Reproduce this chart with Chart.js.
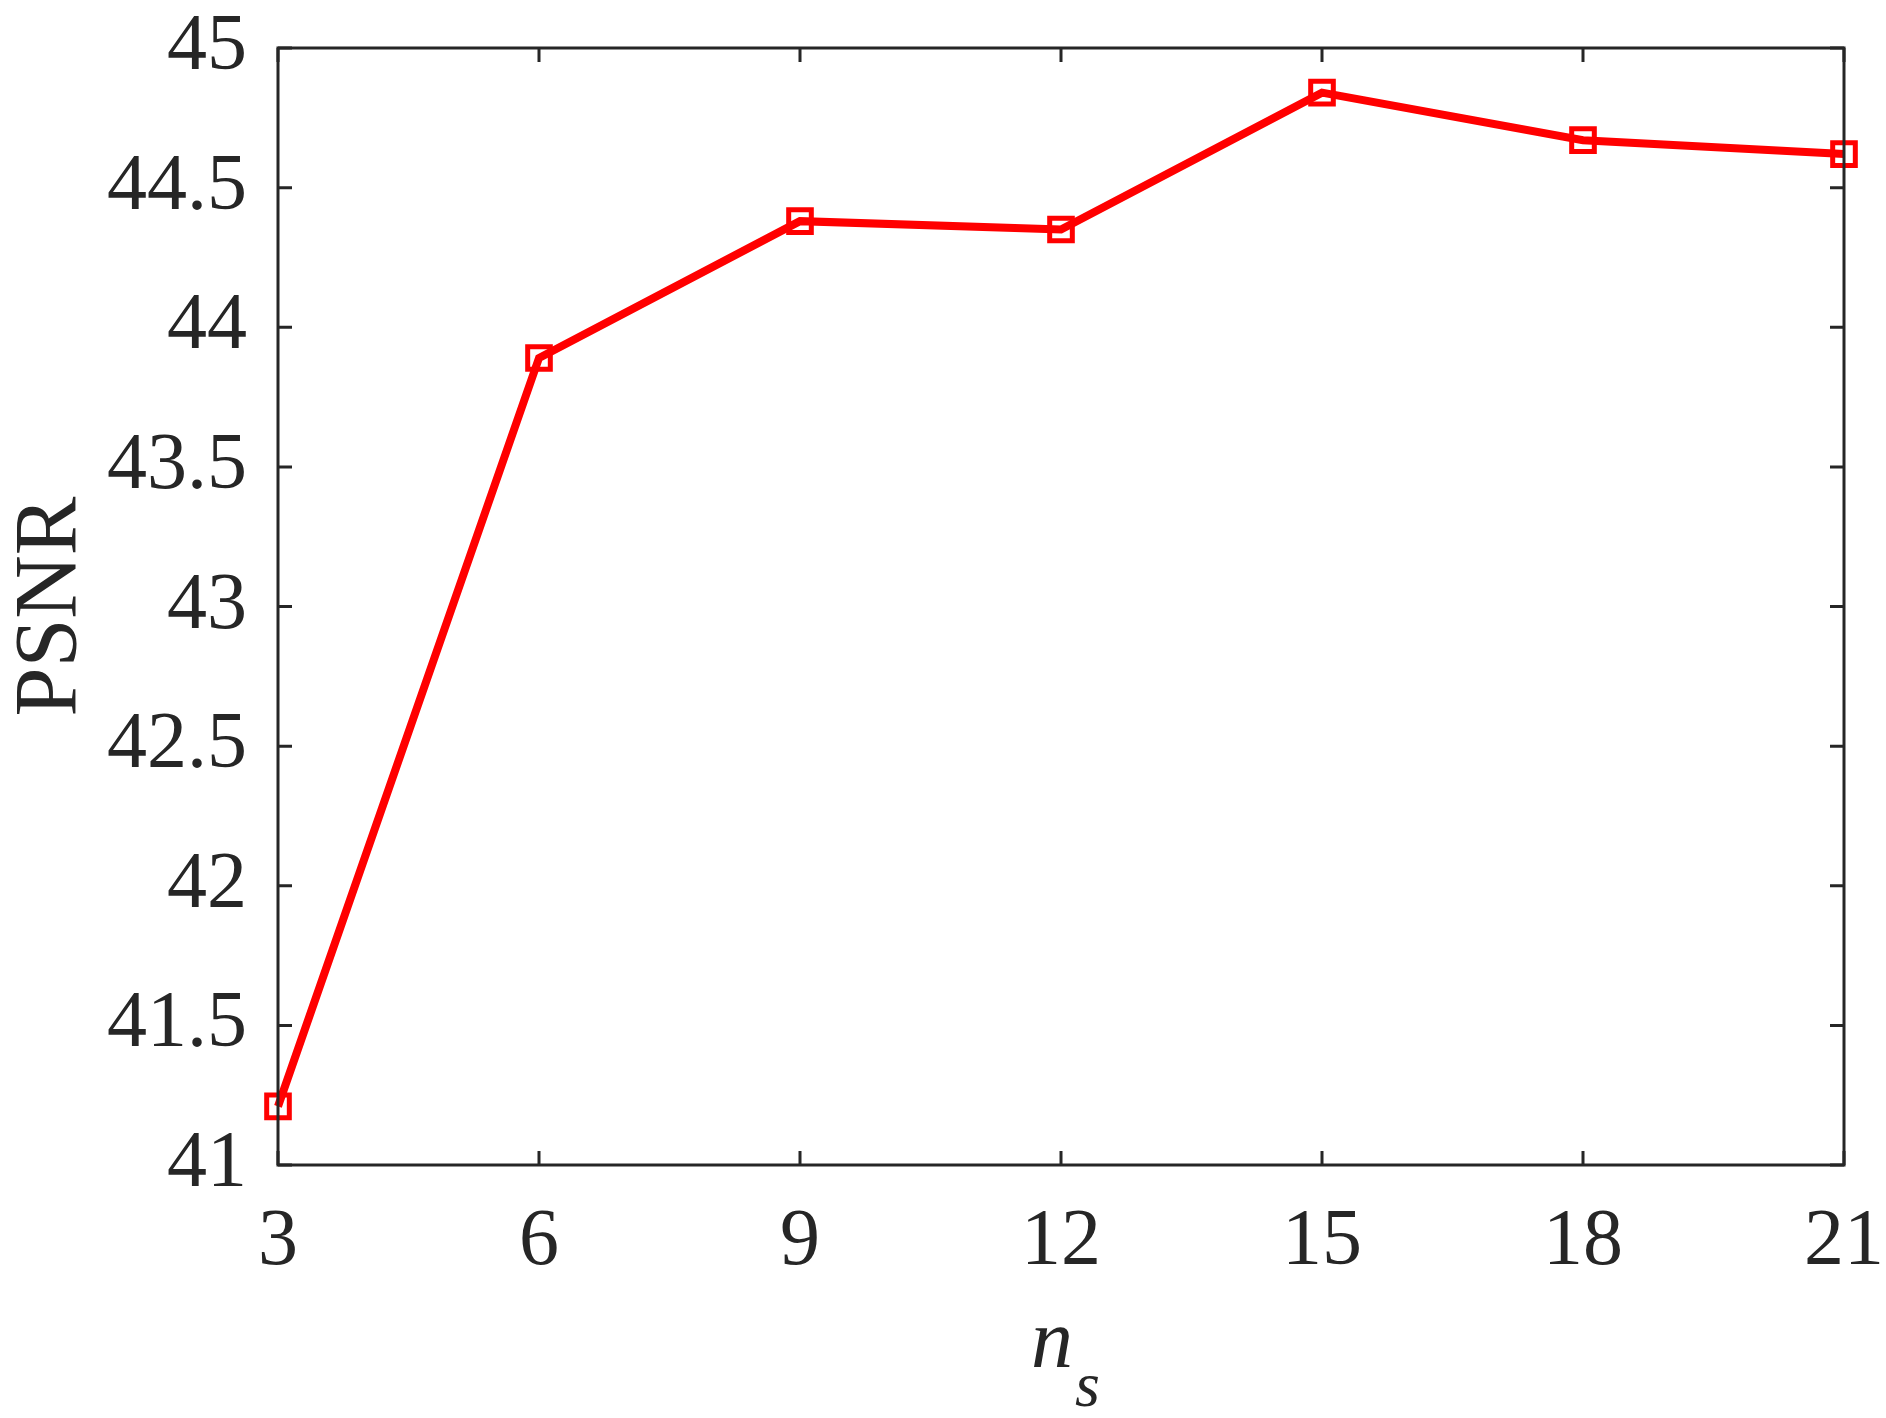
<!DOCTYPE html>
<html>
<head>
<meta charset="utf-8">
<script src="https://cdn.jsdelivr.net/npm/chart.js@4/dist/chart.umd.min.js"></script>
<style>
  html, body { margin: 0; padding: 0; background: #fff; }
  #wrap { width: 1886px; height: 1418px; }
</style>
</head>
<body>
<div id="wrap"><canvas id="c" width="1886" height="1418"></canvas></div>
<script>
const nsValues = [3, 6, 9, 12, 15, 18, 21];
const psnrValues = [41.21, 43.89, 44.38, 44.35, 44.84, 44.67, 44.62];
const xTicks = [3, 6, 9, 12, 15, 18, 21];
const yTicks = [41, 41.5, 42, 42.5, 43, 43.5, 44, 44.5, 45];

const axisColor = '#262626';
const FONT = '"Liberation Serif", "Times New Roman", serif';

const boxPlugin = {
  id: 'boxPlugin',
  afterDatasetsDraw(chart) {
    const { ctx, chartArea: a, scales } = chart;
    ctx.save();
    ctx.strokeStyle = axisColor;
    ctx.lineWidth = 3;
    const tl = 14;
    ctx.beginPath();
    xTicks.forEach(v => {
      const px = scales.x.getPixelForValue(v);
      ctx.moveTo(px, a.bottom); ctx.lineTo(px, a.bottom - tl);
      ctx.moveTo(px, a.top); ctx.lineTo(px, a.top + tl);
    });
    yTicks.forEach(v => {
      const py = scales.y.getPixelForValue(v);
      ctx.moveTo(a.left, py); ctx.lineTo(a.left + tl, py);
      ctx.moveTo(a.right, py); ctx.lineTo(a.right - tl, py);
    });
    ctx.stroke();
    ctx.strokeRect(a.left, a.top, a.right - a.left, a.bottom - a.top);
    ctx.restore();
  },
  afterDraw(chart) {
    const { ctx, chartArea: a } = chart;
    ctx.save();
    ctx.fillStyle = axisColor;
    ctx.textBaseline = 'alphabetic';
    ctx.textAlign = 'left';
    const cx = (a.left + a.right) / 2;
    ctx.font = 'italic 84px ' + FONT;
    ctx.fillText('n', cx - 30, 1367);
    ctx.font = 'italic 64px ' + FONT;
    ctx.fillText('s', cx + 14, 1406);
    ctx.restore();
  }
};

new Chart(document.getElementById('c'), {
  type: 'line',
  data: {
    datasets: [{
      data: nsValues.map((x, i) => ({ x: x, y: psnrValues[i] })),
      borderColor: '#ff0000',
      borderWidth: 8,
      pointStyle: 'rect',
      pointRadius: 16,
      pointBorderWidth: 5,
      pointBorderColor: '#ff0000',
      pointBackgroundColor: 'rgba(255,255,255,0)',
      pointHoverRadius: 16,
      tension: 0,
      clip: false
    }]
  },
  options: {
    responsive: false,
    animation: false,
    events: [],
    layout: { padding: { left: 0, right: 42, top: 48, bottom: 0 } },
    plugins: { legend: { display: false }, tooltip: { enabled: false } },
    scales: {
      x: {
        type: 'linear',
        min: 3, max: 21,
        afterBuildTicks(s) { s.ticks = xTicks.map(v => ({ value: v })); },
        afterFit(s) { s.height = 253; s.paddingLeft = 0; s.paddingRight = 0; },
        grid: { display: false, drawTicks: false },
        border: { display: false },
        ticks: {
          color: axisColor,
          font: { family: FONT, size: 80 },
          padding: 30,
          maxRotation: 0,
          autoSkip: false,
          callback: v => String(v)
        }
      },
      y: {
        type: 'linear',
        min: 41, max: 45,
        afterBuildTicks(s) { s.ticks = yTicks.map(v => ({ value: v })); },
        afterFit(s) { s.width = 278; s.paddingTop = 0; s.paddingBottom = 0; },
        grid: { display: false, drawTicks: false },
        border: { display: false },
        ticks: {
          color: axisColor,
          font: { family: FONT, size: 80 },
          padding: 31,
          autoSkip: false,
          callback: v => String(v)
        },
        title: {
          display: true,
          text: 'PSNR',
          color: axisColor,
          font: { family: FONT, size: 88, lineHeight: 1 },
          padding: { top: 8, bottom: 0 }
        }
      }
    }
  },
  plugins: [boxPlugin]
});
</script>
</body>
</html>
